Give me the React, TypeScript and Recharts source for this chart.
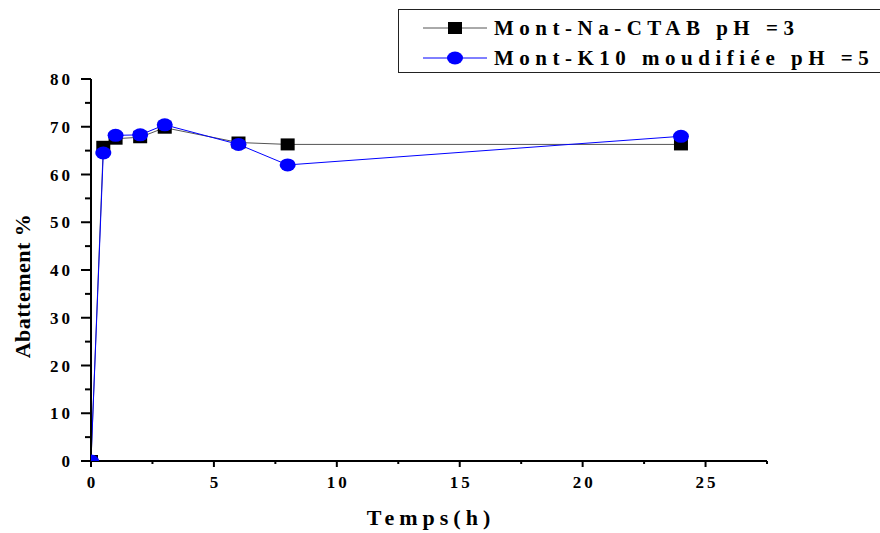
import React from 'react';
import { LineChart, Line, XAxis, YAxis, Legend, Label } from 'recharts';

// temps de contact (h)
const timeHours = [0, 0.5, 1, 2, 3, 6, 8, 24];
// abattement % pour chaque série
const naCtabPh3 = [0, 65.8, 67.5, 67.8, 69.8, 66.7, 66.3, 66.3];
const k10Ph5 = [0, 64.5, 68.2, 68.3, 70.4, 66.3, 62.0, 68.0];

const seriesNames = ['Mont-Na-CTAB pH =3', 'Mont-K10 moudifiée pH =5'];

const xTicks = [0, 2.5, 5, 7.5, 10, 12.5, 15, 17.5, 20, 22.5, 25, 27.5];
const yTicks = [0, 5, 10, 15, 20, 25, 30, 35, 40, 45, 50, 55, 60, 65, 70, 75, 80];

const data = timeHours.map((t, i) => ({ t, ctab: naCtabPh3[i], k10: k10Ph5[i] }));

const FONT = '"Liberation Serif", "DejaVu Serif", serif';

const XTick = (props: any) => {
  const { x, y, payload } = props;
  const major = payload.value % 5 === 0;
  return (
    <g>
      <line x1={x} y1={y} x2={x} y2={y + (major ? 6 : 3)} stroke="#000" strokeWidth={2} />
      {major && (
        <text x={x + 1.5} y={y + 27} textAnchor="middle" fontFamily={FONT} fontWeight="bold" fontSize={17} letterSpacing={3} fill="#000">
          {payload.value}
        </text>
      )}
    </g>
  );
};

const YTick = (props: any) => {
  const { x, y, payload } = props;
  const major = payload.value % 10 === 0;
  return (
    <g>
      <line x1={x - (major ? 10 : 6)} y1={y} x2={x} y2={y} stroke="#000" strokeWidth={2} />
      {major && (
        <text x={x - 18} y={y + 6} textAnchor="end" fontFamily={FONT} fontWeight="bold" fontSize={17} letterSpacing={3} fill="#000">
          {payload.value}
        </text>
      )}
    </g>
  );
};

const SquareDot = (props: any) => {
  const { cx, cy } = props;
  if (cx == null || cy == null) return null;
  return <rect x={cx - 7} y={cy - 6} width={14} height={12} fill="#000" />;
};

const CircleDot = (props: any) => {
  const { cx, cy } = props;
  if (cx == null || cy == null) return null;
  return <ellipse cx={cx} cy={cy} rx={8} ry={6.5} fill="#0000ff" />;
};

const LegendBox = () => (
  <div
    style={{
      border: '1px solid #222',
      width: 490,
      height: 64,
      boxSizing: 'border-box',
      fontFamily: FONT,
      fontWeight: 'bold',
      fontSize: 21,
      letterSpacing: 5.5,
      color: '#000',
      paddingTop: 3,
    }}
  >
    {seriesNames.map((name, i) => (
      <div key={name} style={{ display: 'flex', alignItems: 'center', height: 30, whiteSpace: 'nowrap' }}>
        <svg width={95} height={20} style={{ flex: 'none' }}>
          <line x1={24} y1={10} x2={88} y2={10} stroke={i === 0 ? '#555' : '#0000ff'} strokeWidth={1} />
          {i === 0 ? (
            <rect x={49} y={4} width={14} height={12} fill="#000" />
          ) : (
            <ellipse cx={56} cy={10} rx={8} ry={6.5} fill="#0000ff" />
          )}
        </svg>
        <span>{name}</span>
      </div>
    ))}
  </div>
);

export default function App() {
  return (
    <div style={{ position: 'absolute', left: 0, top: 0, width: 880, height: 533, background: '#fff' }}>
      <LineChart width={880} height={533} data={data} margin={{ top: 79, right: 113, bottom: 0, left: 0 }}>
        <XAxis
          dataKey="t"
          type="number"
          domain={[0, 27.5]}
          ticks={xTicks}
          allowDataOverflow
          interval={0}
          height={72}
          tickSize={0}
          tickMargin={0}
          tickLine={false}
          axisLine={{ stroke: '#000', strokeWidth: 2 }}
          tick={<XTick />}
        >
          <Label
            content={() => (
              <text x={431} y={525} textAnchor="middle" fontFamily={FONT} fontWeight="bold" fontSize={22} letterSpacing={5} fill="#000">
                Temps(h)
              </text>
            )}
          />
        </XAxis>
        <YAxis
          type="number"
          domain={[0, 80]}
          ticks={yTicks}
          allowDataOverflow
          interval={0}
          width={91}
          tickSize={0}
          tickMargin={0}
          tickLine={false}
          axisLine={{ stroke: '#000', strokeWidth: 2 }}
          tick={<YTick />}
        >
          <Label
            content={() => (
              <text
                x={0}
                y={0}
                transform="translate(30 286) rotate(-90)"
                textAnchor="middle"
                fontFamily={FONT}
                fontWeight="bold"
                fontSize={22}
                letterSpacing={0.5}
                fill="#000"
              >
                Abattement %
              </text>
            )}
          />
        </YAxis>
        <Legend
          layout="horizontal"
          verticalAlign="middle"
          align="center"
          wrapperStyle={{ top: 9, left: 398, width: 490 }}
          content={() => <LegendBox />}
        />
        <Line
          dataKey="ctab"
          name={seriesNames[0]}
          stroke="#555"
          strokeWidth={1}
          dot={<SquareDot />}
          activeDot={false}
          isAnimationActive={false}
        />
        <Line
          dataKey="k10"
          name={seriesNames[1]}
          stroke="#0000ff"
          strokeWidth={1}
          dot={<CircleDot />}
          activeDot={false}
          isAnimationActive={false}
        />
      </LineChart>
    </div>
  );
}
